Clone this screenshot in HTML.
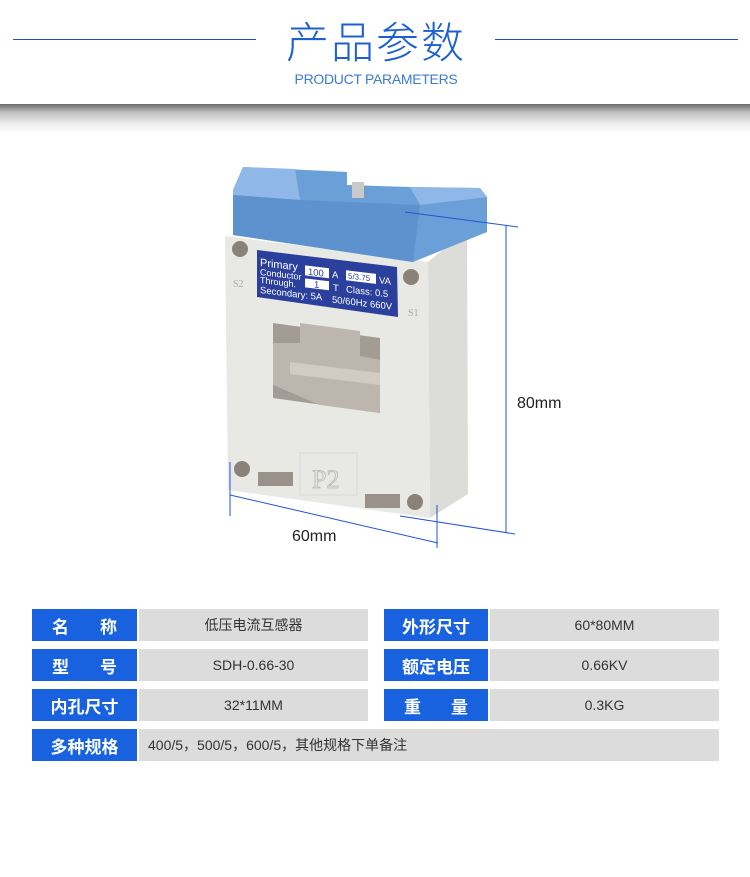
<!DOCTYPE html>
<html><head><meta charset="utf-8"><style>
*{margin:0;padding:0;box-sizing:border-box}
body{width:750px;height:877px;background:#fff;position:relative;overflow:hidden;font-family:"Liberation Sans","Noto Sans CJK SC",sans-serif}
.abs{position:absolute}
.hl{position:absolute;top:39px;height:1px;background:#1f4fc4}
.shadow{position:absolute;left:0;top:104px;width:750px;height:30px;background:linear-gradient(#6a6a6a 0,#bdbdbd 8px,#efefef 20px,#fff 30px)}
.b{position:absolute;background:#1862e0;color:#fff;font-size:17px;font-weight:bold;display:flex;align-items:center;justify-content:center;height:32px}
.g{position:absolute;background:#dcdcdc;color:#333;font-size:14px;display:flex;align-items:center;justify-content:center;height:32px}
</style></head><body>
<div class="hl" style="left:13px;width:243px"></div>
<div class="hl" style="left:495px;width:243px"></div>
<div class="abs" style="left:276px;top:14px;width:200px;text-align:center;font-size:43px;color:#1c5fd0;font-family:'Noto Sans CJK SC',sans-serif;font-weight:300;line-height:52px;letter-spacing:2px">产品参数</div>
<div class="abs" style="left:276px;top:71px;width:200px;text-align:center;font-size:14px;color:#3a7ad8;letter-spacing:-0.3px">PRODUCT PARAMETERS</div>
<div class="shadow"></div>

<svg class="abs" style="left:0;top:0" width="750" height="600" viewBox="0 0 750 600">
 <!-- side face -->
 <polygon points="428,262 467,230 468,494 430,518" fill="#dcdcd8"/>
 <!-- front face -->
 <polygon points="225,236 428,262 430,518 228,490" fill="#e8e8e4"/>
 <!-- blue cap -->
 <polygon points="233,190 243,167 347,172 347,185 410,187 480,188 487,197 487,232 413,262 233,235" fill="#6b9fd8"/>
 <polygon points="233,190 243,167 295,169 300,200 233,195" fill="#8fb8e8"/>
 <polygon points="410,187 480,188 487,197 420,205" fill="#8fb8e8"/>
 <polygon points="300,200 420,205 413,262 233,235 233,195" fill="#5d92cf"/>
 <rect x="352" y="182" width="12" height="16" fill="#c9c9c9"/>
 <!-- holes -->
 <circle cx="240" cy="249" r="8" fill="#8a8178"/>
 <circle cx="411" cy="277" r="8" fill="#8a8178"/>
 <circle cx="242" cy="469" r="8" fill="#8a8178"/>
 <circle cx="415" cy="502" r="8" fill="#8a8178"/>
 <rect x="258" y="472" width="35" height="14" fill="#9a928a"/>
 <rect x="365" y="494" width="35" height="14" fill="#9a928a"/>
 <!-- label -->
 <polygon points="257,250 397,267 398,317 257,297" fill="#2b3f9c"/>
 <g fill="#fff" font-family="Liberation Sans" font-size="9.5" transform="skewY(6.8) translate(0,-31)">
  <text x="260" y="266" font-size="11">Primary</text>
  <rect x="305" y="260" width="24" height="10" fill="#fff"/><text x="308" y="269" fill="#2b3f9c">100</text>
  <text x="332" y="269">A</text>
  <rect x="346" y="260" width="30" height="10" fill="#fff"/><text x="348" y="268" font-size="8" fill="#2b3f9c">5/3.75</text>
  <text x="379" y="269">VA</text>
  <text x="260" y="275" font-size="9">Conductor</text>
  <text x="260" y="283" font-size="9">Through.</text>
  <rect x="305" y="273" width="24" height="9" fill="#fff"/><text x="314" y="281" fill="#2b3f9c">1</text>
  <text x="333" y="282">T</text><text x="346" y="282">Class: 0.5</text>
  <text x="260" y="293">Secondary: 5A</text><text x="332" y="294">50/60Hz 660V</text>
 </g>
 <!-- window -->
 <polygon points="273,323 380,338 380,413 273,398" fill="#a39c95"/>
 <polygon points="300,323 360,331 360,356 380,360 380,413 320,405 273,385 273,343 300,343" fill="#bdb6ae"/>
 <polygon points="290,362 380,373 380,385 290,374" fill="#d1cbc4"/>
 <!-- P2 -->
 <rect x="300" y="453" width="57" height="42" fill="none" stroke="#d8d8d4"/>
 <text x="312" y="488" font-family="Liberation Serif" font-size="26" fill="#e4e4e0" stroke="#b8b8b4" stroke-width="0.8">P2</text>
 <text x="233" y="287" font-family="Liberation Serif" font-size="10" fill="#aaa">S2</text>
 <text x="408" y="316" font-family="Liberation Serif" font-size="10" fill="#aaa">S1</text>
 <!-- dimensions -->
 <g stroke="#1f55d6" stroke-width="1" fill="none">
  <line x1="506" y1="225" x2="506" y2="532"/>
  <line x1="405" y1="212" x2="518" y2="227"/>
  <line x1="400" y1="516" x2="515" y2="534"/>
  <line x1="230" y1="462" x2="230" y2="516"/>
  <line x1="437" y1="505" x2="437" y2="548"/>
  <line x1="230" y1="495" x2="438" y2="543"/>
 </g>
 <text x="517" y="408" font-family="Liberation Sans" font-size="16" fill="#222">80mm</text>
 <text x="292" y="541" font-family="Liberation Sans" font-size="16" fill="#222">60mm</text>
</svg>

<div class="b" style="left:32px;top:609px;width:105px;justify-content:space-between;padding:0 20px">名<span>称</span></div>
<div class="g" style="left:139px;top:609px;width:229px">低压电流互感器</div>
<div class="b" style="left:384px;top:609px;width:104px">外形尺寸</div>
<div class="g" style="left:490px;top:609px;width:229px">60*80MM</div>

<div class="b" style="left:32px;top:649px;width:105px;justify-content:space-between;padding:0 20px">型<span>号</span></div>
<div class="g" style="left:139px;top:649px;width:229px">SDH-0.66-30</div>
<div class="b" style="left:384px;top:649px;width:104px">额定电压</div>
<div class="g" style="left:490px;top:649px;width:229px">0.66KV</div>

<div class="b" style="left:32px;top:689px;width:105px">内孔尺寸</div>
<div class="g" style="left:139px;top:689px;width:229px">32*11MM</div>
<div class="b" style="left:384px;top:689px;width:104px;justify-content:space-between;padding:0 20px">重<span>量</span></div>
<div class="g" style="left:490px;top:689px;width:229px">0.3KG</div>

<div class="b" style="left:32px;top:729px;width:105px">多种规格</div>
<div class="g" style="left:139px;top:729px;width:580px;justify-content:flex-start;padding-left:9px">400/5，500/5，600/5，其他规格下单备注</div>
</body></html>
